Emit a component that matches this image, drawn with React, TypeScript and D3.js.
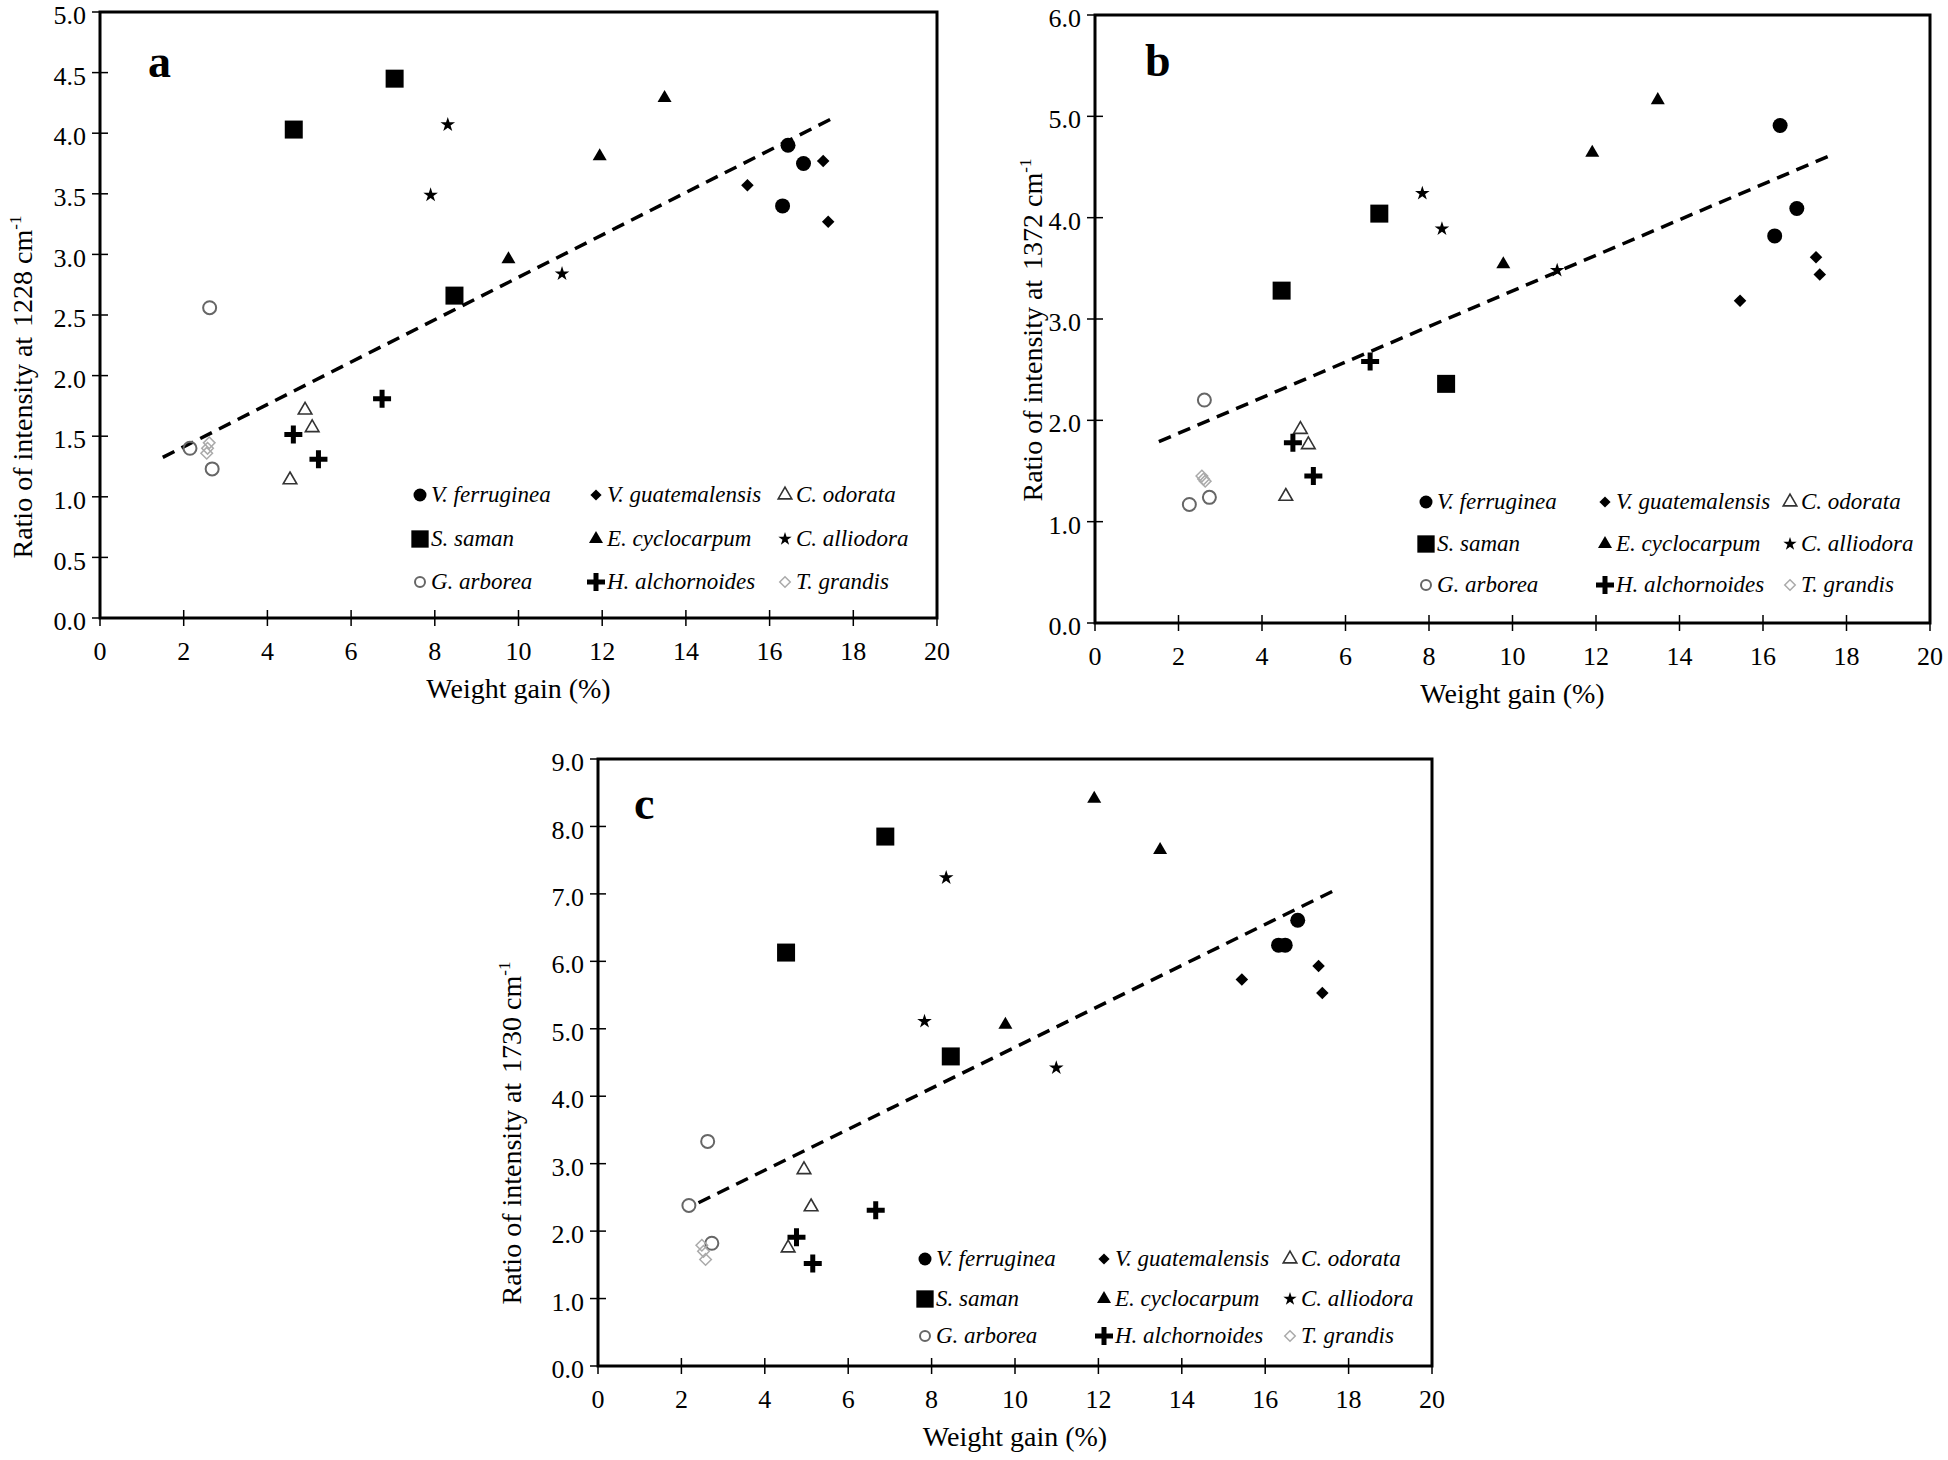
import React from 'react';
import * as d3 from 'd3';

// species in legend order (row by row)
const speciesNames = [
  'V. ferruginea', 'V. guatemalensis', 'C. odorata',
  'S. saman', 'E. cyclocarpum', 'C. alliodora',
  'G. arborea', 'H. alchornoides', 'T. grandis',
];

const xTickValues = [0, 2, 4, 6, 8, 10, 12, 14, 16, 18, 20];
const yTicksA = [0, 0.5, 1, 1.5, 2, 2.5, 3, 3.5, 4, 4.5, 5];
const yTicksB = [0, 1, 2, 3, 4, 5, 6];
const yTicksC = [0, 1, 2, 3, 4, 5, 6, 7, 8, 9];

// [species index, weight gain %, ratio]
const pointsA: [number, number, number][] = [
  [0, 16.44, 3.9], [0, 16.81, 3.75], [0, 16.31, 3.4],
  [1, 15.47, 3.57], [1, 17.28, 3.77], [1, 17.4, 3.27],
  [2, 4.9, 1.715], [2, 5.07, 1.57], [2, 4.54, 1.14],
  [3, 4.63, 4.03], [3, 7.04, 4.45], [3, 8.47, 2.66],
  [4, 13.49, 4.29], [4, 11.94, 3.81], [4, 9.76, 2.96],
  [5, 8.31, 4.07], [5, 7.9, 3.49], [5, 11.04, 2.84],
  [6, 2.62, 2.56], [6, 2.15, 1.4], [6, 2.68, 1.23],
  [7, 4.62, 1.515], [7, 5.22, 1.31], [7, 6.74, 1.81],
  [8, 2.61, 1.445], [8, 2.57, 1.4], [8, 2.55, 1.36],
];

const pointsB: [number, number, number][] = [
  [0, 16.41, 4.91], [0, 16.81, 4.09], [0, 16.28, 3.82],
  [1, 15.45, 3.18], [1, 17.27, 3.61], [1, 17.36, 3.44],
  [2, 4.92, 1.91], [2, 5.11, 1.76], [2, 4.57, 1.25],
  [3, 4.47, 3.28], [3, 6.81, 4.04], [3, 8.41, 2.36],
  [4, 13.48, 5.16], [4, 11.91, 4.64], [4, 9.78, 3.54],
  [5, 7.84, 4.24], [5, 8.31, 3.89], [5, 11.07, 3.48],
  [6, 2.62, 2.2], [6, 2.26, 1.17], [6, 2.74, 1.24],
  [7, 6.59, 2.58], [7, 4.74, 1.78], [7, 5.23, 1.45],
  [8, 2.56, 1.45], [8, 2.64, 1.4], [8, 2.6, 1.42],
];

const pointsC: [number, number, number][] = [
  [0, 16.78, 6.61], [0, 16.32, 6.24], [0, 16.48, 6.24],
  [1, 15.44, 5.73], [1, 17.28, 5.93], [1, 17.37, 5.53],
  [2, 4.94, 2.91], [2, 5.11, 2.36], [2, 4.56, 1.75],
  [3, 4.51, 6.13], [3, 6.89, 7.85], [3, 8.46, 4.59],
  [4, 11.9, 8.41], [4, 13.48, 7.65], [4, 9.77, 5.06],
  [5, 8.35, 7.24], [5, 7.83, 5.11], [5, 10.99, 4.42],
  [6, 2.63, 3.33], [6, 2.18, 2.38], [6, 2.73, 1.82],
  [7, 6.66, 2.31], [7, 4.76, 1.91], [7, 5.15, 1.52],
  [8, 2.49, 1.79], [8, 2.53, 1.7], [8, 2.58, 1.58],
];

const trendA: [number, number][] = [[1.5, 1.325], [17.6, 4.14]];
const trendB: [number, number][] = [[1.53, 1.79], [17.59, 4.61]];
const trendC: [number, number][] = [[2.41, 2.42], [17.72, 7.07]];

const FONT = '"Liberation Serif", "Times New Roman", serif';

const symPath = (type: d3.SymbolType, size: number) => d3.symbol(type, size)() || '';

// marker for one species
const Marker = ({ sp, x, y, legend = false }: { sp: number; x: number; y: number; legend?: boolean }) => {
  const t = `translate(${x},${y})`;
  switch (sp) {
    case 0:
      return <circle cx={x} cy={y} r={legend ? 6.5 : 7.5} fill="#000" />;
    case 1:
      return <path transform={t} d={symPath(d3.symbolDiamond2, legend ? 80 : 100)} fill="#000" />;
    case 2:
      return <path transform={t} d={symPath(d3.symbolTriangle, 80)} fill="none" stroke="#333" strokeWidth={1.6} />;
    case 3:
      return <path transform={t} d={symPath(d3.symbolSquare, legend ? 300 : 324)} fill="#000" />;
    case 4:
      return <path transform={t} d={symPath(d3.symbolTriangle, 85)} fill="#000" />;
    case 5:
      return <path transform={t} d={symPath(d3.symbolStar, legend ? 55 : 66)} fill="#000" />;
    case 6:
      return <circle cx={x} cy={y} r={legend ? 5 : 6.5} fill="none" stroke="#666" strokeWidth={2} />;
    case 7:
      return <path transform={t} d="M-9,0H9M0,-9V9" stroke="#000" strokeWidth={5} />;
    default:
      return <path transform={t} d={symPath(d3.symbolDiamond2, legend ? 70 : 85)} fill="none" stroke="#aaa" strokeWidth={1.5} />;
  }
};

interface PanelProps {
  id: string;
  left: number; top: number; right: number; bottom: number;
  yMax: number;
  yTicks: number[];
  wn: string;
  pts: [number, number, number][];
  trend: [number, number][];
  label: [number, number];
  title: [number, number];
  legCols: number[];
  legRows: number[];
}

const Panel = (p: PanelProps) => {
  const x = d3.scaleLinear().domain([0, 20]).range([p.left, p.right]);
  const y = d3.scaleLinear().domain([0, p.yMax]).range([p.bottom, p.top]);
  const fmt = d3.format('.1f');
  const line = d3.line<[number, number]>().x(d => x(d[0])).y(d => y(d[1]));
  return (
    <g>
      {/* frame */}
      <rect x={p.left} y={p.top} width={p.right - p.left} height={p.bottom - p.top}
        fill="none" stroke="#000" strokeWidth={3} />
      {xTickValues.map(v => (
        <g key={'x' + v}>
          <line x1={x(v)} x2={x(v)} y1={p.bottom - 8} y2={p.bottom + 8} stroke="#000" strokeWidth={1.5} />
          <text x={x(v)} y={p.bottom + 42} textAnchor="middle" fontSize={26}>{v}</text>
        </g>
      ))}
      {p.yTicks.map(v => (
        <g key={'y' + v}>
          <line x1={p.left - 8} x2={p.left + 8} y1={y(v)} y2={y(v)} stroke="#000" strokeWidth={1.5} />
          <text x={p.left - 14} y={y(v) + 3} dy="0.35em" textAnchor="end" fontSize={26}>{fmt(v)}</text>
        </g>
      ))}
      <text x={(p.left + p.right) / 2} y={p.bottom + 80} textAnchor="middle" fontSize={28}>Weight gain (%)</text>
      <text transform={`translate(${p.title[0]},${p.title[1]}) rotate(-90)`} textAnchor="middle" fontSize={28}>
        Ratio of intensity at<tspan dx={10}>{p.wn} cm</tspan>
        <tspan fontSize={17} dy={-11}>-1</tspan>
      </text>
      <text x={p.label[0]} y={p.label[1]} fontSize={46} fontWeight="bold">{p.id}</text>

      <path d={line(p.trend) || ''} fill="none" stroke="#000" strokeWidth={3.5} strokeDasharray="13,8" />

      {p.pts.map((d, i) => (
        <Marker key={i} sp={d[0]} x={x(d[1])} y={y(d[2])} />
      ))}

      {speciesNames.map((name, i) => {
        const cx = p.left + p.legCols[i % 3];
        const cy = p.bottom + p.legRows[Math.floor(i / 3)];
        return (
          <g key={name}>
            <Marker sp={i} x={cx} y={cy} legend />
            <text x={cx + 11} y={cy + 7} fontSize={23} fontStyle="italic">{name}</text>
          </g>
        );
      })}
    </g>
  );
};

export default function App() {
  return (
    <svg width={1948} height={1460} style={{ position: 'absolute', left: 0, top: 0, background: '#fff' }}
      fontFamily={FONT}>
      <rect width={1948} height={1460} fill="#fff" />
      <Panel id="a" left={100} top={12} right={937} bottom={618} yMax={5} yTicks={yTicksA} wn="1228"
        pts={pointsA} trend={trendA} label={[148, 77]} title={[32, 387]}
        legCols={[320, 496, 685]} legRows={[-123, -79, -36]} />
      <Panel id="b" left={1095} top={15} right={1930} bottom={623} yMax={6} yTicks={yTicksB} wn="1372"
        pts={pointsB} trend={trendB} label={[1145, 76]} title={[1042, 330]}
        legCols={[331, 510, 695]} legRows={[-121, -79, -38]} />
      <Panel id="c" left={598} top={759} right={1432} bottom={1366} yMax={9} yTicks={yTicksC} wn="1730"
        pts={pointsC} trend={trendC} label={[634, 819]} title={[521, 1133]}
        legCols={[327, 506, 692]} legRows={[-107, -67, -30]} />
    </svg>
  );
}
